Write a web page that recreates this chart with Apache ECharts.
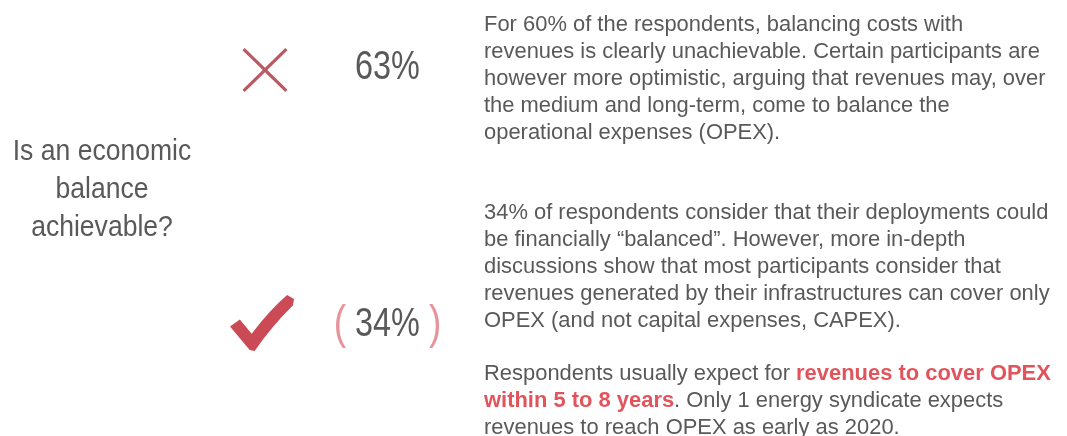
<!DOCTYPE html>
<html>
<head>
<meta charset="utf-8">
<script src="https://cdn.jsdelivr.net/npm/echarts@6/dist/echarts.min.js"></script>
<style>
  html, body { margin: 0; padding: 0; background: #fff; }
  #chart { width: 1067px; height: 436px; }
</style>
</head>
<body>
<div id="chart"></div>
<script>
// answers to "Is an economic balance achievable?"
const answers = ['Unachievable', 'Balanced']
const shares = [63, 34]

const question = ['Is an economic', 'balance', 'achievable?']

const notesNo = [
  'For 60% of the respondents, balancing costs with',
  'revenues is clearly unachievable. Certain participants are',
  'however more optimistic, arguing that revenues may, over',
  'the medium and long-term, come to balance the',
  'operational expenses (OPEX).'
]
const notesYes = [
  '34% of respondents consider that their deployments could',
  'be financially \u201cbalanced\u201d. However, more in-depth',
  'discussions show that most participants consider that',
  'revenues generated by their infrastructures can cover only',
  'OPEX (and not capital expenses, CAPEX).'
]
const notesOutlook = [
  'Respondents usually expect for {r|revenues to cover OPEX}',
  '{r|within 5 to 8 years}. Only 1 energy syndicate expects',
  'revenues to reach OPEX as early as 2020.'
]

const GREY = '#595959'
const FONT = '"Liberation Sans", Arial, sans-serif'

const crossPath = 'path://M0,5 L5,0 L50,45 L95,0 L100,5 L55,50 L100,95 L95,100 L50,55 L5,100 L0,95 L45,50 Z'
const tickPath = 'path://M0,32 L10,25 L22,39 Q40,16 58,1 L65,5 L64,11 Q42,32 25,56 L20,55 Z'

const chart = echarts.init(document.getElementById('chart'))

function para(lines, x, y) {
  return {
    type: 'text',
    x: x,
    y: y,
    scaleX: 1.02,
    style: {
      text: lines.join('\n'),
      font: '21.5px ' + FONT,
      fill: GREY,
      lineHeight: 27,
      verticalAlign: 'top',
      rich: {
        r: { fill: '#e2545c', fontWeight: 'bold', fontSize: 21.5, fontFamily: FONT, lineHeight: 27 }
      }
    }
  }
}

chart.setOption({
  animation: false,
  grid: { left: 215, width: 100, top: 71, height: 252 },
  xAxis: { type: 'category', data: ['mark'], show: false },
  yAxis: { type: 'category', data: answers, inverse: true, boundaryGap: false, show: false },
  series: [
    {
      type: 'scatter',
      silent: true,
      data: answers.map(function(a, i) {
        const yes = i === 1
        return {
          value: ['mark', a],
          symbol: yes ? tickPath : crossPath,
          symbolSize: yes ? [64, 56] : [45, 44],
          symbolOffset: yes ? [-3, 0] : [0, -1],
          itemStyle: { color: yes ? '#bd1e2c' : '#a9303d' }
        }
      })
    },
    {
      // percentage next to each mark (narrow face, like the source)
      type: 'custom',
      silent: true,
      data: shares.map(function(v, i) { return [0, i, v] }),
      encode: { x: 0, y: 1 },
      renderItem: function(params, api) {
        const p = api.coord([api.value(0), api.value(1)])
        const yes = params.dataIndex === 1
        const v = api.value(2)
        return {
          type: 'text',
          x: p[0] + 122.5,
          y: p[1] + (yes ? 2 : -3),
          scaleX: 0.79,
          style: {
            text: yes ? '{p|(} ' + v + '% {p|)}' : v + '%',
            font: '41px ' + FONT,
            fill: GREY,
            align: 'center',
            verticalAlign: 'middle',
            rich: {
              p: { fill: '#e8939b', fontSize: 47, fontFamily: FONT }
            }
          }
        }
      }
    }
  ],
  graphic: [
    {
      type: 'text',
      x: 102,
      y: 133,
      scaleX: 0.885,
      style: {
        text: question.join('\n'),
        font: '30px ' + FONT,
        fill: GREY,
        lineHeight: 38,
        align: 'center',
        verticalAlign: 'top'
      }
    },
    para(notesNo, 484, 12),
    para(notesYes, 484, 200),
    para(notesOutlook, 484, 361)
  ]
})
</script>
</body>
</html>
